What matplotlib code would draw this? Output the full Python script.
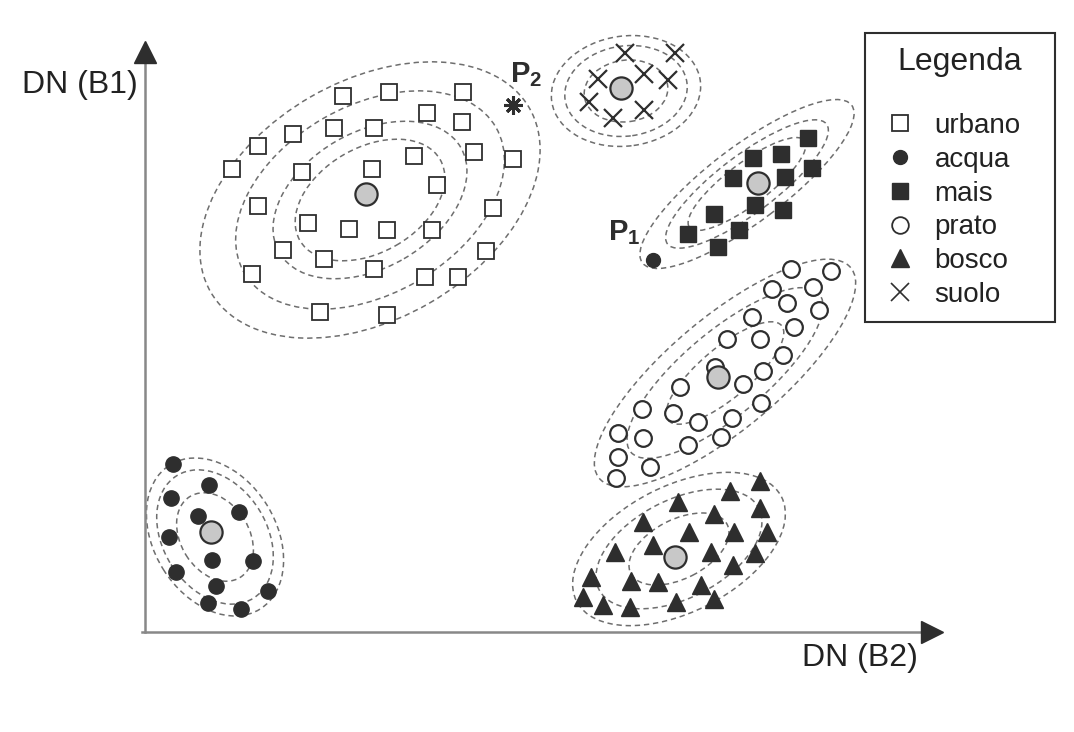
import matplotlib
matplotlib.use('Agg')
import matplotlib.pyplot as plt
from matplotlib.patches import Ellipse
from matplotlib.lines import Line2D

plt.rcParams['font.family'] = ['Liberation Sans', 'DejaVu Sans']
plt.rcParams['mathtext.fontset'] = 'custom'
plt.rcParams['mathtext.rm'] = 'Liberation Sans:bold'
plt.rcParams['mathtext.bf'] = 'Liberation Sans:bold'

INK = '#2e2e2e'
DASH = '#6e6e6e'

# pixel values DN(B2), DN(B1), one list pair per class
urbano_x = [198, 244, 318, 282, 317, 148, 189, 229, 113, 87, 157, 227, 269, 329, 368, 292,
            113, 348, 163, 204, 242, 287, 138, 179, 229, 341, 107, 280, 313, 175, 242]
urbano_y = [536, 540, 540, 519, 510, 498, 504, 504, 486, 463, 460, 463, 476, 480, 473, 447,
            426, 424, 409, 403, 402, 402, 382, 373, 363, 381, 358, 355, 355, 320, 317]
acqua_x = [28, 64, 26, 53, 94, 24, 67, 108, 31, 71, 123, 63, 96]
acqua_y = [168, 147, 134, 116, 120, 95, 72, 71, 60, 46, 41, 29, 23]
mais_x = [663, 636, 608, 588, 640, 667, 610, 638, 569, 594, 543, 573]
mais_y = [494, 478, 474, 454, 455, 464, 427, 422, 418, 402, 398, 385]
prato_x = [646, 686, 627, 668, 642, 674, 607, 649, 582, 615, 638, 570, 618, 535,
           598, 497, 528, 553, 587, 616, 473, 498, 543, 576, 473, 505, 471]
prato_y = [363, 361, 343, 345, 329, 322, 315, 305, 293, 293, 277, 265, 261, 245,
           248, 223, 219, 210, 214, 229, 199, 194, 187, 195, 175, 165, 154]
bosco_x = [615, 585, 533, 569, 615, 498, 544, 589, 622, 508, 470, 566, 610, 588,
           446, 486, 513, 556, 438, 458, 485, 531, 569]
bosco_y = [151, 141, 130, 118, 124, 110, 100, 100, 100, 87, 80, 80, 79, 67,
           55, 51, 50, 47, 35, 27, 25, 30, 33]
suolo_x = [480, 530, 453, 499, 523, 444, 468, 499]
suolo_y = [579, 579, 553, 558, 552, 530, 514, 522]

# class means (grey dots)
class_names = ['urbano', 'acqua', 'mais', 'prato', 'bosco', 'suolo']
mean_x = [221, 66, 613, 573, 530, 476]
mean_y = [438, 100, 449, 255, 75, 544]

# equiprobability contours: centre, semi-axes, orientation, levels
ell_cx = [225, 70, 602, 580, 534, 481]
ell_cy = [432, 95, 448, 259, 83, 541]
ell_a = [184, 85, 131, 164, 115, 75]
ell_b = [119, 61, 38, 56, 63, 55]
ell_ang = [30, -58, 37, 40, 27, 8]
ell_levels = [[1.0, 0.79, 0.57, 0.44], [1.0, 0.85, 0.56], [1.0, 0.76, 0.55],
              [1.0, 0.75, 0.45], [1.0, 0.78, 0.47], [1.0, 0.82, 0.56]]

# unknown pixels
p1 = (508, 372)
p2 = (368, 527)

fig = plt.figure(figsize=(10.74, 7.32), dpi=100)
ax = fig.add_axes([0, 0, 1, 1])
ax.set_xlim(-145, 929)
ax.set_ylim(-100, 632)
ax.axis('off')

for cx, cy, a, b, ang, lev in zip(ell_cx, ell_cy, ell_a, ell_b, ell_ang, ell_levels):
    for s in lev:
        ax.add_patch(Ellipse((cx, cy), 2 * a * s, 2 * b * s, angle=ang, fill=False,
                             ec=DASH, lw=1.1, ls=(0, (3.5, 2.5)), zorder=1))

styles = {
    'urbano': dict(marker='s', ms=11, mfc='white', mec=INK, mew=1.3),
    'acqua': dict(marker='o', ms=11, mfc=INK, mec=INK, mew=1),
    'mais': dict(marker='s', ms=11, mfc=INK, mec=INK, mew=1),
    'prato': dict(marker='o', ms=12, mfc='white', mec=INK, mew=1.6),
    'bosco': dict(marker='^', ms=12.5, mfc=INK, mec=INK, mew=1),
    'suolo': dict(marker='x', ms=12.5, mec=INK, mew=1.6),
}
pts = {'urbano': (urbano_x, urbano_y), 'acqua': (acqua_x, acqua_y), 'mais': (mais_x, mais_y),
       'prato': (prato_x, prato_y), 'bosco': (bosco_x, bosco_y), 'suolo': (suolo_x, suolo_y)}
for name in class_names:
    xs, ys = pts[name]
    ax.plot(xs, ys, ls='none', zorder=3, **styles[name])

ax.plot(mean_x, mean_y, ls='none', marker='o', ms=16, mfc='#c8c8c8', mec=INK, mew=1.6, zorder=4)

ax.plot(*p1, marker='o', ms=10, color=INK, zorder=4)
ax.plot(*p2, marker=(8, 2, 0), ms=13, mec=INK, mew=2.2, zorder=4)
ax.text(p1[0] - 45, p1[1] + 20, r'$\mathbf{P_1}$', fontsize=21, color=INK, va='baseline')
ax.text(p2[0] - 3, p2[1] + 23, r'$\mathbf{P_2}$', fontsize=21, color=INK, va='baseline')

# axes with arrow heads
ax.plot([0, 0], [0, 575], color='#888888', lw=1.8, zorder=2)
ax.plot([-3, 780], [0, 0], color='#888888', lw=1.8, zorder=2)
ax.plot(0, 580, marker='^', ms=15.5, color=INK, zorder=2)
ax.plot(787, 0, marker='>', ms=15.5, color=INK, zorder=2)
ax.text(-7, 547, 'DN (B1)', fontsize=23, color='#222222', ha='right', va='center')
ax.text(773, -26, 'DN (B2)', fontsize=23, color='#222222', ha='right', va='center')

handles = [Line2D([], [], ls='none', **styles['urbano']),
           Line2D([], [], ls='none', **dict(styles['acqua'], ms=10)),
           Line2D([], [], ls='none', **styles['mais']),
           Line2D([], [], ls='none', **dict(styles['prato'], mew=1.3)),
           Line2D([], [], ls='none', **styles['bosco']),
           Line2D([], [], ls='none', **dict(styles['suolo'], mew=1.2))]
leg = ax.legend(handles, class_names, title='Legenda', loc='upper left',
                bbox_to_anchor=(865 / 1074, 1 - 33 / 732, 190 / 1074, 0.0),
                bbox_transform=fig.transFigure, mode='expand',
                borderaxespad=0, fancybox=False, edgecolor=INK, framealpha=1,
                fontsize=20, title_fontsize=23, labelspacing=0.28, handlelength=1.5,
                handletextpad=0.5, borderpad=0.5, alignment='center')
leg.get_frame().set_linewidth(1.5)
leg._legend_box.sep = 26
for t in leg.get_texts():
    t.set_color('#222222')
leg.get_title().set_color('#222222')

plt.savefig('out.png', dpi=100, facecolor='white')
